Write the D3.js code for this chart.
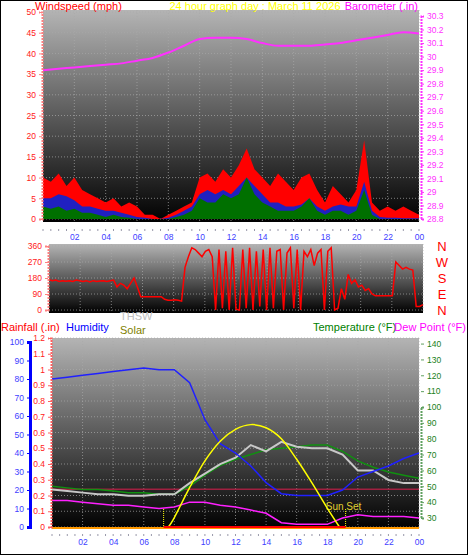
<!DOCTYPE html>
<html><head><meta charset="utf-8">
<script src="https://cdn.jsdelivr.net/npm/d3@7"></script>
<style>body{margin:0;background:#fff}svg{display:block;font-family:"Liberation Sans",Arial,sans-serif}</style>
</head><body><svg id="c" width="468" height="555"></svg>
<script>
// half-hour wind samples 0..24h
const windGust = [10,9,11,8,10,7,6,5,4,5,3,4,3,1,1,0,1,2,3,4,10,11,9,12,10,13,17,12,10,8,11,9,7,10,11,7,4,8,6,4,7,19,4,2,3,2,3,2,1];
const windAvg  = [5,5,6,5.5,4.5,3,3,2.5,2,2,1.5,1,0.5,0.3,0,0,0.3,1,2,3,6,7,6,7,6,8,10,8,6,4,4,3,3,3.5,5,3,2,3,3.5,3,3,9,2,0.5,0.3,0.3,0.2,0.2,0.2];
const windNow  = [3,2.5,3,2,2.5,1.5,1.5,1,0.5,1,0.5,0.3,0,0,0,0,0,0.5,1,2,5,4,4,6,5,6,10,6,4,3,2,2,2,3,5,2,1,2,2,1,2,7,1,0,0,0,0,0,0];
// hourly 0..24
const barometer = [29.90,29.91,29.92,29.93,29.94,29.95,29.97,29.99,30.03,30.08,30.13,30.14,30.14,30.13,30.10,30.08,30.08,30.08,30.09,30.10,30.12,30.14,30.16,30.18,30.17];
// quarter-hour wind direction 0..24h
const windDir = [170,165,168,160,165,162,165,160,168,165,160,165,158,165,160,163,165,160,165,168,130,150,140,120,150,180,130,75,75,75,75,75,
  75,75,60,55,55,58,55,50,240,300,350,340,320,300,330,340,300,0,340,10,330,0,350,5,0,340,10,350,0,330,20,340,
  0,350,10,330,340,0,320,350,10,340,0,330,300,340,250,320,340,0,330,350,0,10,120,60,200,150,170,130,140,110,120,90,
  80,80,80,80,80,80,270,250,230,240,230,225,20,20,30];
const humidity = [80,81,82,83,84,85,86,85,85,78,58,45,40,33,24,18,17,17,17,20,27,30,33,37,40];
const temperature = [50,49,48,48,47,46,46,45,45,50,57,63,67,70,73,74,75,76,76,72,66,62,59,57,55];
const thsw = [48,47,46,45,45,44,44,45,45,52,58,64,68,76,72,78,75,74,74,70,60,60,54,52,52];
const dewPoint = [41,41,40,39,38,38,37,36,37,40,40,38,37,35,33,27,26,26,26,30,32,31,31,31,30];
const solarHours = [7.6,8,9,10,11,12,13,14,15,16,17,18,18.8];
const solarVals  = [0,60,250,420,545,620,650,630,560,430,280,120,0];
const sunRise = 7.3, sunSet = 19.2;
const hourTicks = d3.range(2,25,2);
const dirLabels = ["N","W","S","E","N"];

const svg = d3.select("#c");
svg.append("rect").attr("x",0.5).attr("y",0.5).attr("width",467).attr("height",554).attr("fill","#fff").attr("stroke","#000");
const defs = svg.append("defs");
const g = defs.append("linearGradient").attr("id","bg").attr("x1",0).attr("y1",0).attr("x2",0).attr("y2",1);
g.append("stop").attr("offset","0%").attr("stop-color","#b4b4b4");
g.append("stop").attr("offset","100%").attr("stop-color","#000");

function panel(x0,x1,y0,y1){
  svg.append("rect").attr("x",x0).attr("y",y0).attr("width",x1-x0).attr("height",y1-y0).attr("fill","url(#bg)");
}
function grid(x, y0, y1, ys){
  hourTicks.forEach(h=>svg.append("line").attr("x1",x(h)).attr("x2",x(h)).attr("y1",y0).attr("y2",y1)
    .attr("stroke","#aaa").attr("stroke-dasharray","1,2").attr("opacity",0.7));
  ys.forEach(v=>svg.append("line").attr("x1",x.range()[0]).attr("x2",x.range()[1]).attr("y1",v).attr("y2",v)
    .attr("stroke","#aaa").attr("stroke-dasharray","1,2").attr("opacity",0.7));
}
function timeAxis(x, y){
  const a = svg.append("g").attr("transform",`translate(0,${y})`)
    .call(d3.axisBottom(x).tickValues(hourTicks).tickSize(0).tickPadding(6).tickFormat(h=>d3.format("02")(h%24)));
  a.select(".domain").remove();
  a.selectAll("text").attr("fill","#4040ff").attr("font-size",8.5);
  svg.append("g").selectAll("line").data(d3.range(0,24.01,0.5)).join("line")
    .attr("x1",d=>x(d)).attr("x2",d=>x(d)).attr("y1",y+1).attr("y2",y+3).attr("stroke","#99a");
}
function yAxis(scale, xpos, orient, ticks, color, fmt, lineColor){
  const ax = (orient==="left"?d3.axisLeft(scale):d3.axisRight(scale)).tickValues(ticks).tickSize(3).tickFormat(fmt);
  const a = svg.append("g").attr("transform",`translate(${xpos},0)`).call(ax);
  a.select(".domain").attr("stroke",lineColor||color).attr("stroke-dasharray","2,1").attr("stroke-width",2);
  a.selectAll("line").attr("stroke",lineColor||color);
  a.selectAll("text").attr("fill",color).attr("font-size",8.5);
  return a;
}
const txt=(x,y,s,c,anchor,size)=>svg.append("text").attr("x",x).attr("y",y).text(s).attr("fill",c)
  .attr("font-size",size||11).attr("text-anchor",anchor||"start");

// ---- top panel
const xT = d3.scaleLinear().domain([0,24]).range([43,419]);
const yW = d3.scaleLinear().domain([0,50]).range([219,12]);
const yB = d3.scaleLinear().domain([28.8,30.3]).range([219,16]);
panel(43,419,10,222);
grid(xT,10,222,d3.range(0,51,5).map(yW));
const half = d3.range(0,24.01,0.5);
const area = (vals,yS)=>d3.area().x((d,i)=>xT(half[i])).y0(yS(0)).y1(d=>yS(d))(vals);
svg.append("path").attr("d",area(windGust,yW)).attr("fill","#ff0000");
svg.append("path").attr("d",area(windAvg,yW)).attr("fill","#2020c0");
svg.append("path").attr("d",area(windNow,yW)).attr("fill","#007000");
svg.append("path").attr("d",d3.line().x((d,i)=>xT(i)).y(d=>yB(d)).curve(d3.curveMonotoneX)(barometer))
  .attr("fill","none").attr("stroke","#ff30ff").attr("stroke-width",2);
yAxis(yW,42,"left",d3.range(0,51,5),"#ff2020",d3.format("d"),"#ff8080");
yAxis(yB,421,"right",d3.range(28.8,30.31,0.1),"#ff30ff",d=>d3.format(".1f")(d).replace(/\.0$/,""));
txt(35,10,"Windspeed (mph)","#ff0000");
txt(255,10,"24 hour graph day : March 11 2026","#ffff00","middle");
txt(418,10,"Barometer (.in)","#ff00ff","end");
timeAxis(xT,228);

// ---- wind direction panel
const xM = d3.scaleLinear().domain([0,24]).range([49,423]);
const yD = d3.scaleLinear().domain([0,360]).range([310,246]);
panel(49,423,244,313);
grid(xM,244,313,d3.range(0,361,90).map(yD));
const qtr = windDir.map((d,i)=>i*24/(windDir.length-1));
svg.append("path").attr("d",d3.line().x((d,i)=>xM(qtr[i])).y(d=>yD(d))(windDir))
  .attr("fill","none").attr("stroke","#ff0000").attr("stroke-width",1.5);
yAxis(yD,48,"left",d3.range(0,361,90),"#ff2020",d3.format("d"),"#ff8080");
dirLabels.forEach((s,i)=>txt(442,yD(360-i*90)+5,s,"#ff0000","middle",13));

// ---- bottom panel
const xB = d3.scaleLinear().domain([0,24]).range([52,419]);
const yR = d3.scaleLinear().domain([0,1.2]).range([527,338]);
const yH = d3.scaleLinear().domain([0,100]).range([527,342]);
const yTm = d3.scaleLinear().domain([30,100]).range([518,407]);
const yS = d3.scaleLinear().domain([0,1200]).range([527,338]);
panel(52,419,338,529);
grid(xB,338,529,d3.range(0,1.21,0.1).map(yR));
svg.append("line").attr("x1",52).attr("x2",419).attr("y1",yR(0.24)).attr("y2",yR(0.24)).attr("stroke","#a02040").attr("stroke-width",1.5);
[sunRise,sunSet].forEach(h=>svg.append("line").attr("x1",xB(h)).attr("x2",xB(h)).attr("y1",509).attr("y2",527)
  .attr("stroke","#ffff00").attr("stroke-dasharray","1,1"));
txt(xB(sunSet)-2,510,"Sun Set","#e0d030","middle",10);
const hl = (vals,yS2)=>d3.line().x((d,i)=>xB(i)).y(d=>yS2(d))(vals);
svg.append("path").attr("d",hl(temperature,yTm)).attr("fill","none").attr("stroke","#109010").attr("stroke-width",1.5);
svg.append("path").attr("d",hl(thsw,yTm)).attr("fill","none").attr("stroke","#c8c8c8").attr("stroke-width",2);
svg.append("path").attr("d",hl(dewPoint,yTm)).attr("fill","none").attr("stroke","#ff20ff").attr("stroke-width",1.5);
svg.append("path").attr("d",hl(humidity,yH)).attr("fill","none").attr("stroke","#2020ff").attr("stroke-width",1.5);
svg.append("path").attr("d",d3.line().x((d,i)=>xB(solarHours[i])).y(d=>yS(d)).curve(d3.curveCardinal)(solarVals))
  .attr("fill","none").attr("stroke","#ffff00").attr("stroke-width",1.5);
svg.append("line").attr("x1",52).attr("x2",419).attr("y1",yR(0)+1).attr("y2",yR(0)+1).attr("stroke","#ff9900").attr("stroke-width",2);
svg.append("line").attr("x1",xB(sunRise)).attr("x2",xB(sunSet)).attr("y1",yR(0)).attr("y2",yR(0)).attr("stroke","#ff0000").attr("stroke-width",2);
const hA = yAxis(yH,30,"left",d3.range(0,101,10),"#4040ff",d3.format("d"),"#0000ff");
hA.select(".domain").attr("stroke-dasharray",null).attr("stroke-width",3);
yAxis(yR,51,"left",d3.range(0,1.21,0.1),"#ff2020",d=>d3.format(".1f")(d).replace(/\.0$/,""),"#ff6060");
yAxis(yTm,421,"right",d3.range(30,141,10),"#208020",d3.format("d"),"#60a060");
txt(1,331,"Rainfall (.in)","#ff0000");
txt(66,331,"Humidity","#0000ff");
txt(120,320,"THSW","#c0c0c0");
txt(120,334,"Solar","#808000");
txt(313,331,"Temperature (°F)","#008000");
txt(466,331,"Dew Point (°F)","#ff00ff","end");
timeAxis(xB,533);
</script></body></html>
